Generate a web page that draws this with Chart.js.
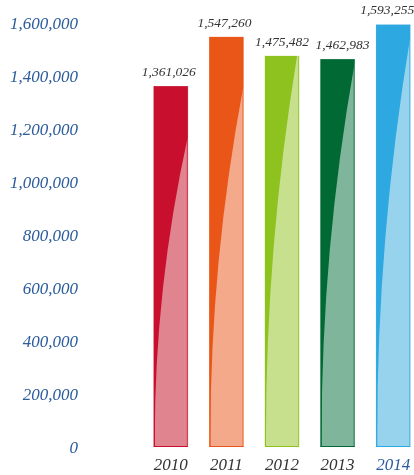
<!DOCTYPE html>
<html>
<head>
<meta charset="utf-8">
<script src="https://cdn.jsdelivr.net/npm/chart.js@4/dist/chart.umd.min.js"></script>
<style>
html,body{margin:0;padding:0;background:#fff;overflow:hidden;width:414px;height:475px;}
#wrap{position:relative;width:421px;height:475px;}
</style>
</head>
<body>
<div id="wrap"><canvas id="c"></canvas></div>
<script>
const categories = ['2010', '2011', '2012', '2013', '2014'];
const values = [1361026, 1547260, 1475482, 1462983, 1593255];
const yTicks = [0, 200000, 400000, 600000, 800000, 1000000, 1200000, 1400000, 1600000];

const darkColors = ['#C8102E', '#E95618', '#8DC21F', '#006934', '#2DA8E0'];
const lightColors = ['#E08590', '#F4A98A', '#C7E08D', '#7FB59A', '#98D3EE'];
const curveReach = [0.86, 0.88, 1.03, 0.99, 0.97];
const labelDx = [-2, -2, 0, 5, -6];

const SERIF = '"Liberation Serif", "DejaVu Serif", serif';
const BLUE = '#2B5C9B';

const overlayPlugin = {
  id: 'overlay',
  afterDatasetsDraw(chart) {
    const ctx = chart.ctx;
    const meta = chart.getDatasetMeta(0);
    meta.data.forEach((bar, i) => {
      const p = bar.getProps(['x', 'y', 'base', 'width'], true);
      const L = p.x - p.width / 2, R = p.x + p.width / 2;
      const H = p.base - p.y;
      const Hh = H * curveReach[i];
      ctx.save();
      ctx.beginPath();
      ctx.rect(L, p.y, p.width, H);
      ctx.clip();
      ctx.beginPath();
      ctx.moveTo(L, p.y - 2);
      ctx.lineTo(R, p.y - 2);
      ctx.lineTo(R, p.base - Hh);
      ctx.quadraticCurveTo(L, p.base - Hh / 2, L + 1, p.base);
      ctx.lineTo(L, p.base);
      ctx.closePath();
      ctx.fillStyle = darkColors[i];
      ctx.fill();
      ctx.restore();
      ctx.save();
      ctx.fillStyle = darkColors[i];
      ctx.fillRect(L, p.base - 1, p.width, 1);
      ctx.fillRect(L, p.y, 1, H);
      ctx.globalAlpha = 0.7;
      ctx.fillRect(R - 1, p.y, 1, H);
      ctx.restore();
      ctx.save();
      ctx.font = 'italic 13.5px ' + SERIF;
      ctx.fillStyle = '#333333';
      ctx.textAlign = 'center';
      ctx.textBaseline = 'middle';
      ctx.fillText(values[i].toLocaleString('en-US'), p.x + labelDx[i], p.y - 14);
      ctx.restore();
    });
  }
};

const chart = new Chart(document.getElementById('c'), {
  type: 'bar',
  data: {
    labels: categories,
    datasets: [{
      data: values,
      backgroundColor: lightColors,
      borderWidth: 0,
      barThickness: 34,
      yAxisID: 'y'
    }]
  },
  options: {
    responsive: true,
    maintainAspectRatio: false,
    devicePixelRatio: 1,
    animation: false,
    layout: { padding: { top: 23, right: 0, left: 0, bottom: 0 } },
    plugins: { legend: { display: false }, tooltip: { enabled: false } },
    scales: {
      x: {
        grid: { display: false, drawTicks: false },
        border: { display: false },
        ticks: {
          padding: 8,
          font: { family: SERIF, size: 17, style: 'italic' },
          color: (c) => c.index === 4 ? BLUE : '#333333'
        },
        afterFit(s) { s.height = 28; }
      },
      y: {
        position: 'left',
        weight: 1,
        min: 0,
        max: 1600000,
        grid: { display: false, drawTicks: false },
        border: { display: false },
        afterBuildTicks(s) { s.ticks = yTicks.map(v => ({ value: v })); },
        ticks: {
          padding: 2,
          labelOffset: 2,
          font: { family: SERIF, size: 17, style: 'italic' },
          color: BLUE,
          callback: (v) => Number(v).toLocaleString('en-US')
        },
        afterFit(s) { s.width = 80; }
      },
      gap: {
        type: 'linear',
        position: 'left',
        weight: 0,
        grid: { display: false, drawTicks: false },
        border: { display: false },
        ticks: { display: false },
        afterFit(s) { s.width = 63; }
      }
    }
  },
  plugins: [overlayPlugin]
});
</script>
</body>
</html>
